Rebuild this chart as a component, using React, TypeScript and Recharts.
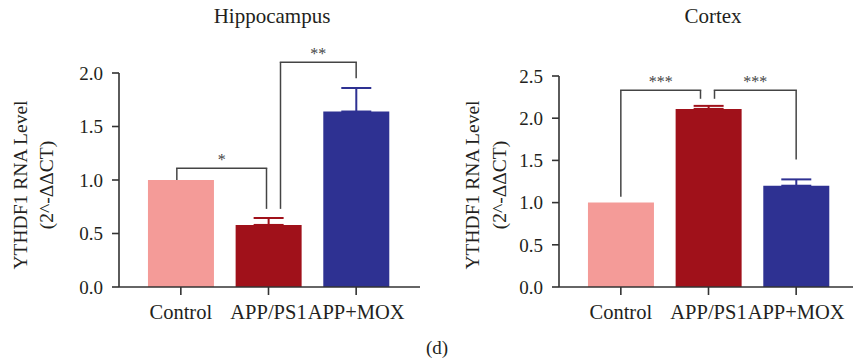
import { Bar, BarChart, Cell, ErrorBar, ReferenceLine, XAxis, YAxis } from 'recharts';

const categories = ['Control', 'APP/PS1', 'APP+MOX'];
const barColors = ['#F49B98', '#A0111A', '#2E3192'];

const hippoMean = [1.0, 0.58, 1.64];
const hippoSem = [0, 0.065, 0.22];
const hippoTicks = [0, 0.5, 1.0, 1.5, 2.0];

const cortexMean = [1.0, 2.11, 1.2];
const cortexSem = [0, 0.036, 0.075];
const cortexTicks = [0, 0.5, 1.0, 1.5, 2.0, 2.5];

// significance brackets: bar indices, bracket height, where each leg stops, stars
const hippoSig = [
  { from: 0, to: 1, y: 1.11, left: 1.0, right: 0.73, stars: '*' },
  { from: 1, to: 2, y: 2.1, left: 0.73, right: 1.95, stars: '**' },
];
const cortexSig = [
  { from: 0, to: 1, y: 2.33, left: 1.07, right: 2.23, stars: '***' },
  { from: 1, to: 2, y: 2.33, left: 2.23, right: 1.51, stars: '***' },
];

// pixel nudges of bracket legs off the bar centre
const hippoNudge = [[-4, -2], [12, 0]];
const cortexNudge = [[0, -8], [6, 0]];

const FONT = '"Liberation Serif", "Times New Roman", serif';
const INK = '#231F20';
const AXIS = '#333';
const BRACKET = '#444';

type Sig = { from: number; to: number; y: number; left: number; right: number; stars: string };

function bracketLines(sig: Sig[], nudge: number[][]) {
  return sig.flatMap((s, k) => {
    const [d1, d2] = nudge[k];
    const a = categories[s.from];
    const b = categories[s.to];
    const leg = (x: string, y0: number, dx: number, key: string) => (
      <ReferenceLine
        key={key}
        ifOverflow="visible"
        segment={[{ x, y: y0 }, { x, y: s.y }]}
        shape={(p: any) => (
          <line x1={p.x1 + dx} y1={p.y1} x2={p.x2 + dx} y2={p.y2} stroke={BRACKET} strokeWidth={1.5} />
        )}
      />
    );
    return [
      leg(a, s.left, d1, `l${k}`),
      leg(b, s.right, d2, `r${k}`),
      <ReferenceLine
        key={`h${k}`}
        ifOverflow="visible"
        segment={[{ x: a, y: s.y }, { x: b, y: s.y }]}
        shape={(p: any) => (
          <g>
            <line
              x1={p.x1 + d1 - 0.75}
              y1={p.y1}
              x2={p.x2 + d2 + 0.75}
              y2={p.y2}
              stroke={BRACKET}
              strokeWidth={1.5}
            />
            <text
              x={(p.x1 + d1 + p.x2 + d2) / 2}
              y={p.y1 - 3}
              textAnchor="middle"
              fontFamily={FONT}
              fontSize={16}
              fill={BRACKET}
            >
              {s.stars}
            </text>
          </g>
        )}
      />,
    ];
  });
}

function YTitle({ x1, x2, cy }: { x1: number; x2: number; cy: number }) {
  return (
    <g fontFamily={FONT} fontSize={19.5} fill={INK} textAnchor="middle">
      <text x={x1} y={cy} transform={`rotate(-90 ${x1} ${cy})`}>
        YTHDF1 RNA Level
      </text>
      <text x={x2} y={cy} transform={`rotate(-90 ${x2} ${cy})`}>
        (2^-ΔΔCT)
      </text>
    </g>
  );
}

function Panel({
  mean,
  sem,
  ticks,
  sig,
  nudge,
  width,
  top,
  right,
  yAxisWidth,
  pad,
  labelX,
}: {
  mean: number[];
  sem: number[];
  ticks: number[];
  sig: Sig[];
  nudge: number[][];
  width: number;
  top: number;
  right: number;
  yAxisWidth: number;
  pad: { left: number; right: number };
  labelX: [number, number];
}) {
  const data = categories.map((name, i) => {
    const row: Record<string, any> = { name, value: mean[i] };
    if (sem[i] > 0) row[`e${i}`] = [0, sem[i]];
    return row;
  });
  return (
    <BarChart
      width={width}
      height={364}
      data={data}
      margin={{ top, right, bottom: 37, left: 0 }}
      barCategoryGap="12.5%"
    >
      <XAxis
        dataKey="name"
        interval={0}
        height={40}
        padding={pad}
        tickSize={8}
        tickMargin={9}
        axisLine={{ stroke: AXIS, strokeWidth: 1.6 }}
        tickLine={{ stroke: AXIS, strokeWidth: 1.6 }}
        tick={{ fill: INK, fontSize: 20.5, fontFamily: FONT }}
      />
      <YAxis
        width={yAxisWidth}
        domain={[0, ticks[ticks.length - 1]]}
        ticks={ticks}
        tickFormatter={(v: number) => v.toFixed(1)}
        tickSize={7}
        tickMargin={9}
        axisLine={{ stroke: AXIS, strokeWidth: 1.6 }}
        tickLine={{ stroke: AXIS, strokeWidth: 1.6 }}
        tick={{ fill: INK, fontSize: 19, fontFamily: FONT }}
        label={<YTitle x1={labelX[0]} x2={labelX[1]} cy={185} />}
      />
      <Bar dataKey="value" isAnimationActive={false}>
        {data.map((_, i) => (
          <Cell key={i} fill={barColors[i]} />
        ))}
        {categories.map((_, i) =>
          sem[i] > 0 ? (
            <ErrorBar
              key={i}
              dataKey={`e${i}`}
              width={15}
              stroke={barColors[i]}
              strokeWidth={2}
              isAnimationActive={false}
            />
          ) : null,
        )}
      </Bar>
      {bracketLines(sig, nudge)}
    </BarChart>
  );
}

export default function App() {
  return (
    <div
      style={{ position: 'absolute', left: 0, top: 0, width: 853, height: 364, background: '#fff' }}
    >
      <div style={{ position: 'absolute', left: 0, top: 0 }}>
        <Panel
          mean={hippoMean}
          sem={hippoSem}
          ticks={hippoTicks}
          sig={hippoSig}
          nudge={hippoNudge}
          width={430}
          top={73}
          right={10}
          yAxisWidth={119}
          pad={{ left: 18, right: 20 }}
          labelX={[26.5, 52.5]}
        />
      </div>
      <div style={{ position: 'absolute', left: 430, top: 0 }}>
        <Panel
          mean={cortexMean}
          sem={cortexSem}
          ticks={cortexTicks}
          sig={cortexSig}
          nudge={cortexNudge}
          width={423}
          top={76}
          right={0}
          yAxisWidth={129}
          pad={{ left: 18, right: 13 }}
          labelX={[49, 75.5]}
        />
      </div>
      <svg
        width={853}
        height={364}
        style={{ position: 'absolute', left: 0, top: 0, pointerEvents: 'none' }}
        fontFamily={FONT}
        fill={INK}
        textAnchor="middle"
      >
        <text x={272} y={23} fontSize={21}>
          Hippocampus
        </text>
        <text x={713} y={23} fontSize={21}>
          Cortex
        </text>
        <text x={437} y={354} fontSize={19}>
          (d)
        </text>
      </svg>
    </div>
  );
}
